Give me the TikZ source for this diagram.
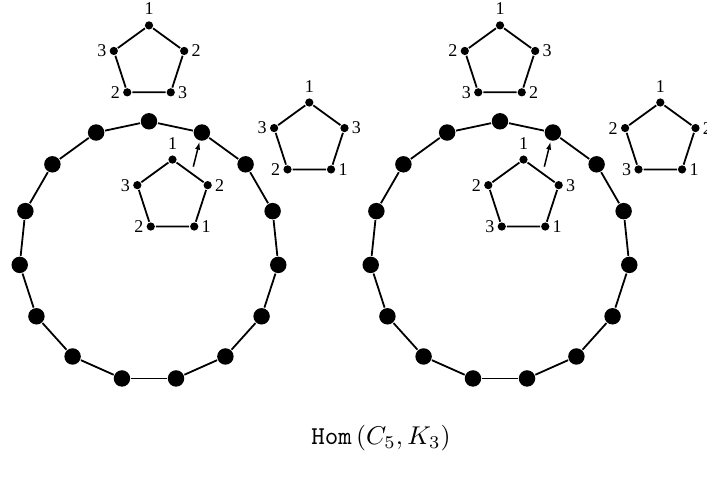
\documentclass[tikz,border=0pt]{standalone}
\usepackage{fontspec}
\newfontfamily\lblfont{Liberation Serif}
\usetikzlibrary{arrows.meta,calc}
\begin{document}
\begin{tikzpicture}[x=0.389pt,y=-0.389pt,line width=0.7pt,
  bigdot/.style={circle,fill,inner sep=0pt,minimum size=6.4pt},
  dot/.style={circle,fill,inner sep=0pt,minimum size=3.2pt},
  lbl/.style={font=\lblfont\fontsize{7}{8}\selectfont,inner sep=0.6pt}]
\useasboundingbox (0,0) rectangle (707,481);
% the two components, 15 maps each
\foreach \s/\cx in {a/149,b/500} {
  \foreach \k in {0,...,14} {
    \pgfmathsetmacro{\ang}{-90+24*\k}
    \node[bigdot] (\s\k) at ($(\cx,251.3)+(\ang:130)$) {};
  }
  \foreach \k in {0,...,14} {
    \pgfmathtruncatemacro{\nk}{mod(\k+1,15)}
    \draw (\s\k)--(\s\nk);
  }
}
% C5 colourings
\foreach \nm/\cx/\cy/\la/\lb/\lc/\ld/\le in {lt/149/62.4/1/2/3/2/3, li/172.5/196.6/1/2/1/2/3, lr/309.3/139.5/1/3/1/2/3,
  rt/500/62.4/1/3/2/3/2, ri/523.5/196.6/1/3/1/3/2, rr/660.3/139.5/1/2/1/3/2} {
  \foreach \k/\ang/\sd/\anc/\lab in {0/-90/north/south/\la,1/-18/east/west/\lb,2/54/east/west/\lc,3/126/west/east/\ld,4/-162/west/east/\le} {
    \node[dot] (\nm\k) at ($(\cx,\cy)+(\ang:37)$) {};
    \node[lbl,anchor=\anc] (\nm l\k) at ($(\nm\k.\sd)+(0,{\k==0 ? -3 : 0})$) {\lab};
  }
  \draw (\nm0)--(\nm1)--(\nm2)--(\nm3)--(\nm4)--(\nm0);
}
% arrows into the component
\coordinate (fa) at (193.3,166.7);
\coordinate (fb) at (544.3,166.7);
\draw[-{Latex[length=3.2pt,width=2pt]},line width=0.6pt] (fa)--(a1);
\draw[-{Latex[length=3.2pt,width=2pt]},line width=0.6pt] (fb)--(b1);
\node (hom) at (381,438) {\texttt{Hom}\,$(C_5,K_3)$};
\end{tikzpicture}
\end{document}
